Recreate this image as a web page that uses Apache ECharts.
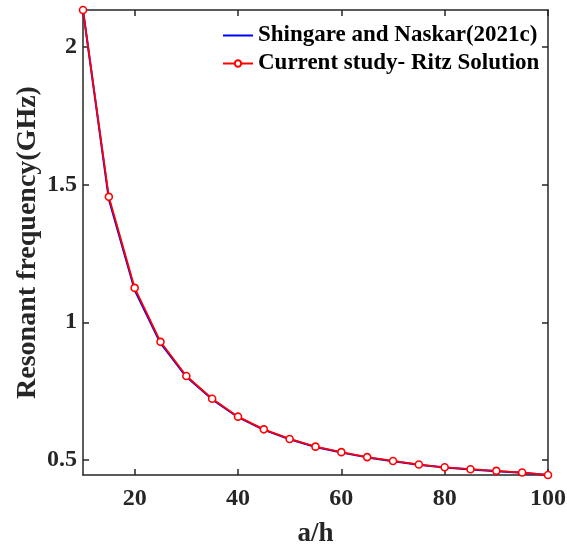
<!DOCTYPE html>
<html><head><meta charset="utf-8">
<script src="https://cdn.jsdelivr.net/npm/echarts@6/dist/echarts.min.js"></script>
<style>html,body{margin:0;padding:0;background:#fff}#c{width:567px;height:548px}</style>
</head><body><div id="c"></div>
<script>
const aOverH = [10,15,20,25,30,35,40,45,50,55,60,65,70,75,80,85,90,95,100];
const shingare = [2.135,1.447,1.117,0.924,0.802,0.720,0.655,0.609,0.575,0.547,0.527,0.509,0.495,0.482,0.472,0.465,0.459,0.453,0.445];
const ritz = [2.135,1.456,1.125,0.929,0.805,0.722,0.657,0.611,0.576,0.548,0.528,0.510,0.496,0.483,0.473,0.466,0.460,0.454,0.445];
const xTicks = [20,40,60,80,100];
const yTicks = [0.5,1,1.5,2];
const seriesNames = ['Shingare and Naskar(2021c)','Current study- Ritz Solution'];

const axisColor = '#262626';
const font = 'Liberation Serif';
const chart = echarts.init(document.getElementById('c'));
const baseX = {
  type:'value', min:10, max:100,
  axisLine:{show:true, onZero:false, lineStyle:{color:axisColor, width:1.5}},
  splitLine:{show:false}
};
const baseY = {
  type:'value', min:0.445, max:2.135,
  axisLine:{show:true, onZero:false, lineStyle:{color:axisColor, width:1.5}},
  splitLine:{show:false}
};
chart.setOption({
  animation:false,
  backgroundColor:'#fff',
  grid:{left:83, right:19, top:10, bottom:73, containLabel:false, outerBoundsMode:'none'},
  legend:{
    left:217, top:19, orient:'vertical', itemGap:5, itemWidth:30, itemHeight:8,
    textStyle:{fontFamily:font, fontWeight:'bold', fontSize:23, color:'#000'},
    data:[
      {name:seriesNames[0], itemStyle:{opacity:0}},
      {name:seriesNames[1]}
    ]
  },
  xAxis:[
    Object.assign({}, baseX, {
      position:'bottom',
      name:'a/h', nameLocation:'middle', nameGap:46, nameMoveOverlap:false,
      nameTextStyle:{fontFamily:font, fontWeight:'bold', fontSize:27, color:axisColor},
      axisTick:{show:true, inside:true, length:6, customValues:xTicks, lineStyle:{color:axisColor, width:1.5}},
      axisLabel:{show:true, customValues:xTicks, margin:12, fontFamily:font, fontWeight:'bold', fontSize:24, color:axisColor}
    }),
    Object.assign({}, baseX, {
      position:'top',
      axisTick:{show:true, inside:true, length:6, customValues:xTicks, lineStyle:{color:axisColor, width:1.5}},
      axisLabel:{show:false}
    })
  ],
  yAxis:[
    Object.assign({}, baseY, {
      position:'left',
      name:'Resonant frequency(GHz)', nameLocation:'middle', nameGap:41, nameMoveOverlap:false,
      nameTextStyle:{fontFamily:font, fontWeight:'bold', fontSize:28, color:axisColor},
      axisTick:{show:true, inside:true, length:6, customValues:yTicks, lineStyle:{color:axisColor, width:1.5}},
      axisLabel:{show:true, customValues:yTicks, margin:6, fontFamily:font, fontWeight:'bold', fontSize:24, color:axisColor}
    }),
    Object.assign({}, baseY, {
      position:'right',
      axisTick:{show:true, inside:true, length:6, customValues:yTicks, lineStyle:{color:axisColor, width:1.5}},
      axisLabel:{show:false}
    })
  ],
  series:[
    {
      name:seriesNames[0], type:'line', xAxisIndex:0, yAxisIndex:0,
      data:aOverH.map((x,i)=>[x, shingare[i]]),
      symbol:'none', smooth:false,
      lineStyle:{color:'#0000ff', width:2},
      itemStyle:{color:'#0000ff'}
    },
    {
      name:seriesNames[1], type:'line', xAxisIndex:0, yAxisIndex:0,
      data:aOverH.map((x,i)=>[x, ritz[i]]),
      symbol:'circle', symbolSize:7, showAllSymbol:true,
      lineStyle:{color:'#ff0000', width:1.8},
      itemStyle:{color:'#fff', borderColor:'#ff0000', borderWidth:1.6}
    }
  ]
});
</script></body></html>
